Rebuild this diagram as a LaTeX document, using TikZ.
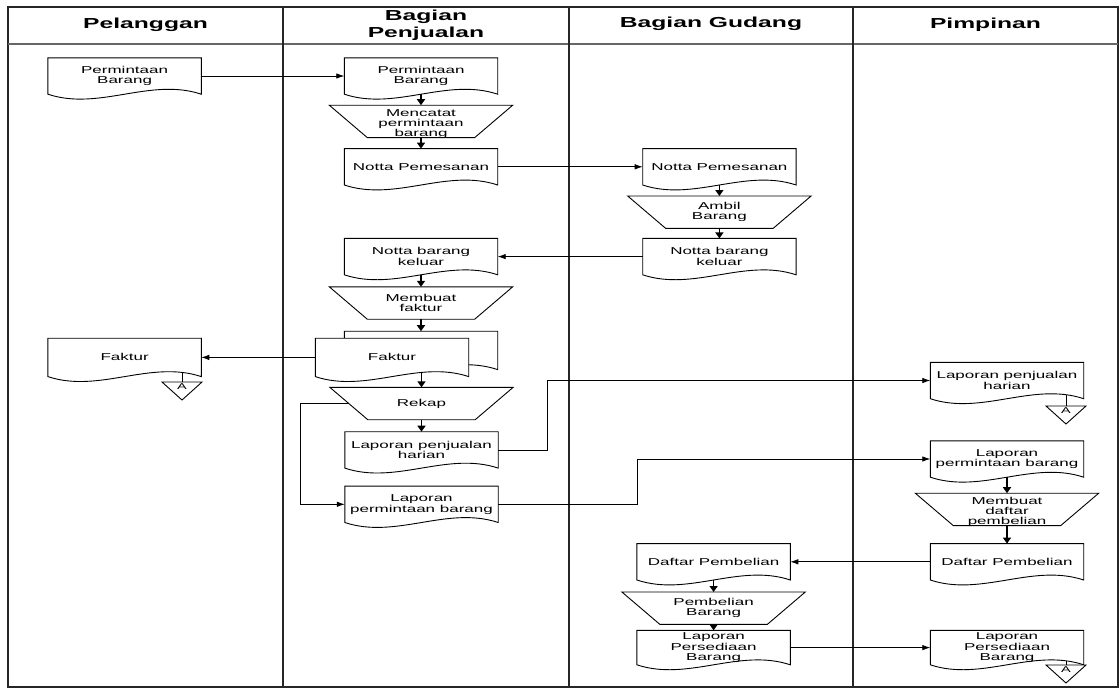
\documentclass[tikz,border=0pt]{standalone}
\usepackage{fontspec}
\setmainfont{Liberation Sans}[FakeStretch=1.7]
\usepackage{tikz}
\usetikzlibrary{arrows.meta,positioning,calc}
\pgfdeclarelayer{background}
\pgfsetlayers{background,main}

% document symbol with wavy bottom
\newcommand{\docline}[1]{%
  \begin{pgfonlayer}{background}
  \draw[fill=white, line width=0.9pt] (#1.south west) -- (#1.north west) -- (#1.north east) -- (#1.south east)
    .. controls ($(#1.south east)!0.333!(#1.south west)+(0,17pt)$) and ($(#1.south west)!0.333!(#1.south east)+(0,-17pt)$) .. (#1.south west) -- cycle;
  \end{pgfonlayer}}
% manual operation
\newcommand{\manop}[1]{%
  \begin{pgfonlayer}{background}
  \draw[fill=white, line width=0.9pt] (#1.north west) -- (#1.north east) -- ([xshift=-38pt]#1.south east) -- ([xshift=38pt]#1.south west) -- cycle;
  \end{pgfonlayer}
  \coordinate (#1-l) at ([xshift=19pt]#1.west);}
% off-page connector
\newcommand{\offpage}[1]{%
  \begin{pgfonlayer}{background}
  \draw[fill=white, line width=0.9pt] (#1.north) ++(-20,0) -- ++(40,0) -- ++(-20,18) -- cycle;
  \end{pgfonlayer}}

\begin{document}
\begin{tikzpicture}[
  x=1pt, y=-1pt,
  docu/.style={minimum width=153pt, minimum height=36pt, inner sep=1pt, align=center, font=\fontsize{10}{10.6}\selectfont},
  manual/.style={minimum width=183pt, minimum height=32pt, inner sep=0.5pt, align=center, font=\fontsize{10}{10.2}\selectfont},
  lowtext/.style={text height=30pt, text depth=0pt},
  head/.style={align=center, font=\fontsize{14.5}{17}\selectfont\bfseries},
  offp/.style={anchor=north, inner sep=1.5pt, font=\fontsize{8.5}{8.5}\selectfont},
  flow/.style={line width=1.5pt, -{Triangle[length=6pt,width=8pt]}},
  link/.style={line width=0.8pt, -{Latex[length=8pt,width=5.5pt]}},
  lane/.style={line width=1.3pt, black!85}
]
  \useasboundingbox (0,0) rectangle (1120,689);

  % lanes
  \draw[lane] (8,7) rectangle (1118,687);
  \draw[lane, black!60] (8,44) -- (1118,44);
  \foreach \x in {283,569,853} \draw[lane] (\x,7) -- (\x,687);
  \node[head] (hPel) at (145.5,25) {Pelanggan};
  \node[head] (hPen) at (426,25) {Bagian\\Penjualan};
  \node[head] (hGud) at (711,24) {Bagian Gudang};
  \node[head] (hPim) at (985.5,25) {Pimpinan};

  % bagian penjualan
  \node[docu] (pbB) at (421,76) {Permintaan\\Barang};
  \node[manual, lowtext, below=11pt of pbB] (mc) {Mencatat\\permintaan\\barang};
  \node[docu, below=11pt of mc] (npB) {Notta Pemesanan};

  % bagian gudang
  \node[docu, right=145pt of npB] (npG) {Notta Pemesanan};
  \node[manual, below=11pt of npG] (ab) {Ambil\\Barang};
  \node[docu, below=10pt of ab] (nbkG) {Notta barang\\keluar};

  \node[docu, left=145pt of nbkG] (nbkB) {Notta barang\\keluar};
  \node[manual, below=12pt of nbkB] (mf) {Membuat\\faktur};
  \node[docu, minimum height=38pt, below=12pt of mf] (fkB) {};
  \node[docu, minimum height=38pt] (fk) at ([xshift=-29pt,yshift=-7pt]fkB.center) {Faktur};
  \node[manual] (rk) at (421.5,403.5) {Rekap};
  \node[docu, below=12pt of rk] (lph) {Laporan penjualan\\harian};
  \node[docu, below=18pt of lph] (lpb) {Laporan\\permintaan barang};

  % pelanggan
  \node[docu, left=143pt of pbB] (pbA) {Permintaan\\Barang};
  \node[docu, minimum height=38pt, left=114pt of fk] (fkA) {Faktur};
  \node[offp] (conA1) at (182,382) {A};

  % pimpinan
  \node[docu] (lph2) at (1007,380.5) {Laporan penjualan\\harian};
  \node[offp] (conA2) at (1066,406) {A};
  \node[docu] (lpb2) at (1007,459) {Laporan\\permintaan barang};
  \node[manual, lowtext, below=16pt of lpb2] (md) {Membuat\\daftar\\pembelian};
  \node[docu, below=18pt of md] (dp2) {Daftar Pembelian};

  \node[docu, left=140pt of dp2] (dpG) {Daftar Pembelian};
  \node[manual, below=12pt of dpG] (pbg) {Pembelian\\Barang};
  \node[docu, minimum height=34pt, below=6pt of pbg] (lpsG) {Laporan\\Persediaan\\Barang};
  \node[docu, minimum height=34pt, right=140pt of lpsG] (lps2) {Laporan\\Persediaan\\Barang};
  \node[offp] (conA3) at (1066,665) {A};

  % shapes
  \foreach \n in {pbA,pbB,npB,npG,nbkG,nbkB,fkB,fk,fkA,lph,lpb,lph2,lpb2,dp2,dpG,lpsG,lps2} {\docline{\n}}
  \foreach \n in {mc,ab,mf,rk,md,pbg} {\manop{\n}}
  \foreach \n in {conA1,conA2,conA3} {\offpage{\n}}

  % flows inside lanes
  \draw[flow] (pbB) -- (mc);
  \draw[flow] (mc) -- (npB);
  \draw[flow] (npG) -- (ab);
  \draw[flow] (ab) -- (nbkG);
  \draw[flow] (nbkB) -- (mf);
  \draw[flow] (mf) -- (fkB);
  \draw[flow] ([yshift=4pt]fk.south -| rk.north) -- (rk.north);
  \draw[flow] (rk) -- (lph);
  \draw[flow] (lpb2) -- (md);
  \draw[flow] (md) -- (dp2);
  \draw[flow] (dpG) -- (pbg);
  \draw[flow] (pbg) -- (lpsG);

  % links between lanes
  \draw[link] (pbA) -- (pbB);
  \draw[link] (npB) -- (npG);
  \draw[link] (nbkG) -- (nbkB);
  \draw[link] (fk) -- (fkA);
  \draw[link] (rk-l) -- ++(-48,0) |- (lpb.west);
  \draw[link] (lph.east) -- ++(49,0) |- (lph2.west);
  \draw[link] (lpb.east) -- ++(139,0) |- (lpb2.west);
  \draw[link] (dp2) -- (dpG);
  \draw[link] (lpsG) -- (lps2);

  % to connectors
  \draw[line width=0.8pt] ([yshift=4pt]fkA.south -| conA1.north) -- (conA1.north);
  \draw[line width=0.8pt] ([yshift=4pt]lph2.south -| conA2.north) -- (conA2.north);
  \draw[line width=0.8pt] ([yshift=4pt]lps2.south -| conA3.north) -- (conA3.north);
\end{tikzpicture}
\end{document}
